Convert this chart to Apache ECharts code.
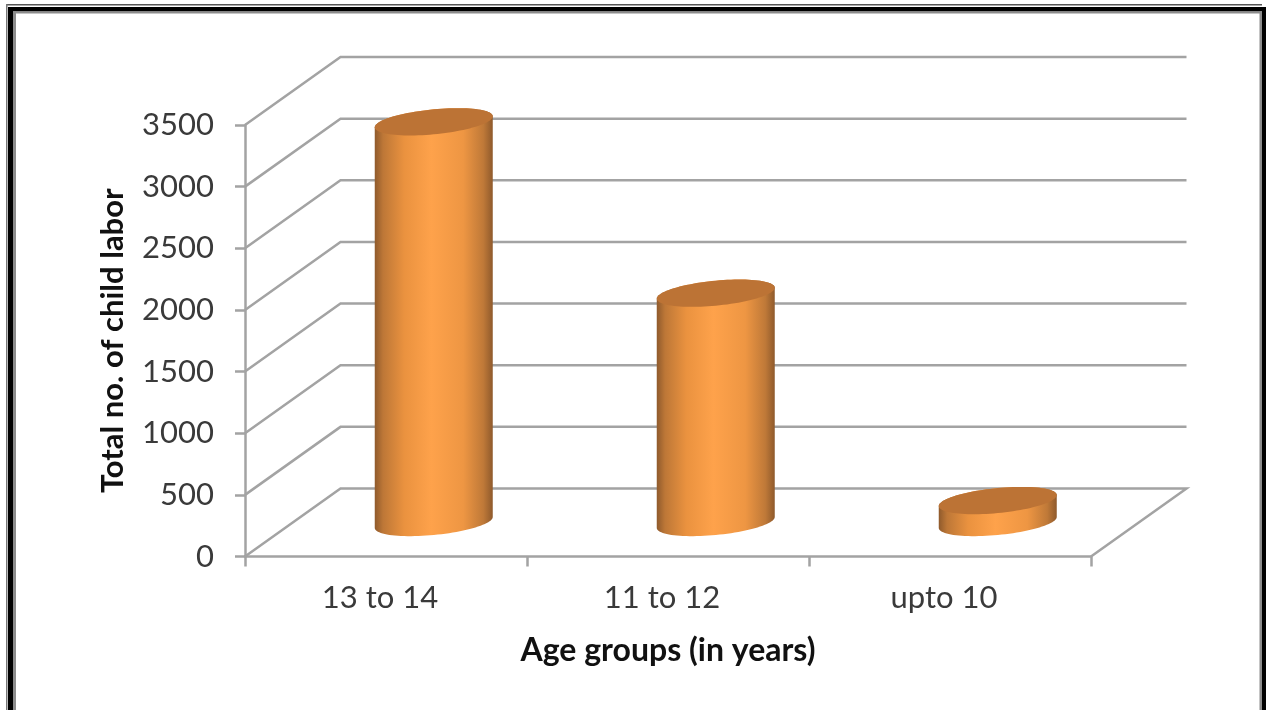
<!DOCTYPE html>
<html>
<head>
<meta charset="utf-8">
<style>html,body{margin:0;padding:0;background:#fff}#chart{width:1267px;height:710px}</style>
<script src="https://cdn.jsdelivr.net/npm/echarts@6/dist/echarts.min.js"></script>
</head>
<body>
<div id="chart"></div>
<script>
// Child labour totals by age group
const categories = ['13 to 14', '11 to 12', 'upto 10'];
const laborTotals = [3250, 1860, 178];
const valueTicks = [0, 500, 1000, 1500, 2000, 2500, 3000, 3500];

// Oblique projection of the chart floor and the cylinders
const DEPTH_X = 95.5, DEPTH_Y = -68;
const RADIUS_X = 59, SHEAR = 5.5, RADIUS_Y = 12.5;

function ellipsePoint(cx, cy, t) {
  return [cx + RADIUS_X * Math.cos(t), cy - SHEAR * Math.cos(t) + RADIUS_Y * Math.sin(t)];
}
function ellipseArc(cx, cy, from, to, steps) {
  const pts = [];
  for (let i = 0; i <= steps; i++) pts.push(ellipsePoint(cx, cy, from + (to - from) * i / steps));
  return pts;
}

const bodyFill = new echarts.graphic.LinearGradient(0, 0, 1, 0, [
  { offset: 0, color: '#8f5a2c' },
  { offset: 0.07, color: '#bd7737' },
  { offset: 0.25, color: '#ea923f' },
  { offset: 0.48, color: '#fea24b' },
  { offset: 0.75, color: '#ee9643' },
  { offset: 0.92, color: '#bf7938' },
  { offset: 1, color: '#8f5a2c' }
]);

function renderWalls(params, api) {
  const rect = params.coordSys;
  const y = api.coord([0, api.value(1)])[1];
  const isFloor = api.value(1) === 0;
  const pts = [[rect.x, y], [rect.x + DEPTH_X, y + DEPTH_Y], [rect.x + rect.width + DEPTH_X, y + DEPTH_Y]];
  if (isFloor) pts.push([rect.x + rect.width, y]);
  return {
    type: 'polyline',
    shape: { points: pts },
    style: { stroke: '#a3a3a3', lineWidth: 2.5, fill: null }
  };
}

function renderCylinder(params, api) {
  const base = api.coord([api.value(0), 0]);
  const top = api.coord([api.value(0), api.value(1)]);
  const cx = base[0] + DEPTH_X / 2;
  const yBase = base[1] + DEPTH_Y / 2;
  const yTop = top[1] + DEPTH_Y / 2;
  const lower = ellipseArc(cx, yBase, 0, Math.PI, 48);
  const upper = ellipseArc(cx, yTop, Math.PI, 2 * Math.PI, 48);
  return {
    type: 'group',
    children: [
      { type: 'polygon', shape: { points: lower.concat(upper) }, style: { fill: bodyFill } },
      { type: 'polygon', shape: { points: ellipseArc(cx, yTop, 0, 2 * Math.PI, 96) }, style: { fill: '#bc7335' } }
    ]
  };
}

const frame = [
  [6, 4, 1256, 1.5, '#555'], [6, 4, 1.5, 706, '#777'],
  [8, 7, 1258, 4.5, '#000'], [8, 7, 5, 703, '#000'], [1262, 7, 4, 703, '#000'],
  [13, 11.5, 1249, 2, '#8c8c8c'], [13, 11.5, 3, 699, '#8c8c8c'], [1259.5, 11.5, 2.5, 699, '#8c8c8c']
];

const chart = echarts.init(document.getElementById('chart'), null, { renderer: 'canvas' });
chart.setOption({
  animation: false,
  backgroundColor: '#fff',
  graphic: frame.map(f => ({
    type: 'rect', silent: true,
    shape: { x: f[0], y: f[1], width: f[2], height: f[3] },
    style: { fill: f[4] }
  })),
  grid: { left: 245, right: 176, top: 125, bottom: 153.5 },
  xAxis: {
    type: 'category',
    data: categories,
    name: 'Age groups (in years)',
    nameLocation: 'middle',
    nameGap: 78,
    nameTextStyle: { fontFamily: 'Lato', fontSize: 32, fontWeight: 'bold', color: '#111' },
    axisLine: { lineStyle: { color: '#a3a3a3', width: 2.5 } },
    axisTick: { show: true, length: 10, lineStyle: { color: '#a3a3a3', width: 2.5 } },
    axisLabel: { fontFamily: 'Lato', fontSize: 31, color: '#3a3a3a', margin: 26, padding: [0, 12, 0, 0] }
  },
  yAxis: {
    type: 'value',
    min: valueTicks[0],
    max: valueTicks[valueTicks.length - 1],
    interval: valueTicks[1] - valueTicks[0],
    name: 'Total no. of child labor',
    nameLocation: 'middle',
    nameGap: 117,
    nameTextStyle: { fontFamily: 'Lato', fontSize: 31, fontWeight: 'bold', color: '#111' },
    axisLine: { show: true, lineStyle: { color: '#a3a3a3', width: 2.5 } },
    axisTick: { show: true, length: 10, lineStyle: { color: '#a3a3a3', width: 2.5 } },
    axisLabel: { fontFamily: 'Lato', fontSize: 31, color: '#3a3a3a', margin: 31, formatter: v => String(v) },
    splitLine: { show: false }
  },
  series: [
    {
      type: 'custom',
      renderItem: renderWalls,
      data: valueTicks.map(v => [0, v]),
      encode: { x: 0, y: 1 },
      silent: true,
      z: 1
    },
    {
      type: 'custom',
      renderItem: renderCylinder,
      data: laborTotals.map((v, i) => [i, v]),
      encode: { x: 0, y: 1 },
      silent: true,
      z: 2
    }
  ]
});
</script>
</body>
</html>
